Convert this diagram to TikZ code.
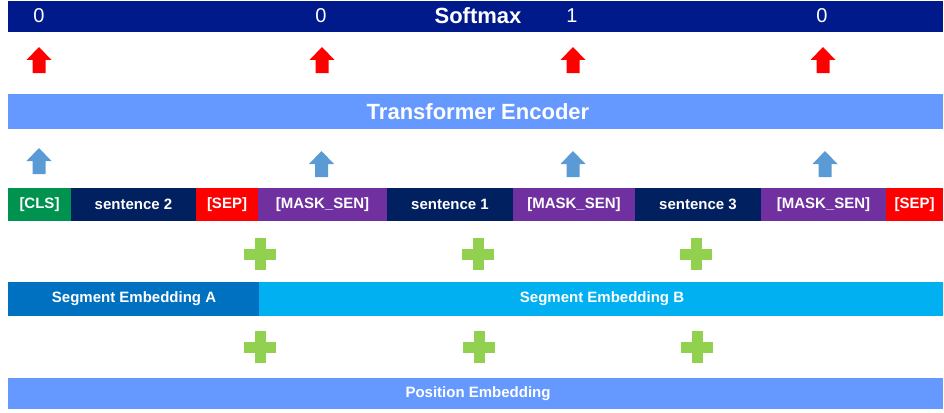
\documentclass[tikz,border=0pt]{standalone}
\usepackage{fontspec}
\setmainfont{Liberation Sans}
\definecolor{softnavy}{HTML}{001A8C}
\definecolor{encblue}{HTML}{6699FF}
\definecolor{arrred}{HTML}{FF0000}
\definecolor{arrblue}{HTML}{5B9BD5}
\definecolor{clsgreen}{HTML}{00924F}
\definecolor{sentnavy}{HTML}{002060}
\definecolor{sepred}{HTML}{FF0000}
\definecolor{maskpurple}{HTML}{7030A0}
\definecolor{plusgreen}{HTML}{92D050}
\definecolor{segA}{HTML}{0070C0}
\definecolor{segB}{HTML}{00B0F0}
\begin{document}
\begin{tikzpicture}[x=1pt,y=-1pt,
  barbox/.style={draw=none,inner sep=0pt,outer sep=0pt,anchor=north west},
  bartext/.style={text=white,font=\fontsize{22}{26}\selectfont\bfseries,inner sep=0pt},
  digit/.style={text=white,font=\fontsize{20}{24}\selectfont,inner sep=0pt},
  tok/.style={draw=none,inner sep=0pt,outer sep=0pt,minimum height=33pt,text=white,font=\fontsize{15}{18}\selectfont\bfseries},
  segtext/.style={text=white,font=\fontsize{15}{18}\selectfont\bfseries,inner sep=0pt},
  uparrow/.pic={\fill[pic actions] (-12.5,0) -- (0,-13) -- (12.5,0) -- (6.5,0) -- (6.5,13) -- (-6.5,13) -- (-6.5,0) -- cycle;},
  pluspic/.pic={\fill[plusgreen] (-5.5,-16) rectangle (5.5,16); \fill[plusgreen] (-16,-5.5) rectangle (16,5.5);}
]
\useasboundingbox (0,0) rectangle (944,412);
% Softmax bar
\node[barbox,fill=softnavy,minimum width=935pt,minimum height=31pt] (softmax) at (8,1) {};
\node[digit] (o1) at (39,16) {0};
\node[digit] (o2) at (321,16) {0};
\node[bartext] (smtext) at (478,16) {Softmax};
\node[digit] (o3) at (572,16) {1};
\node[digit] (o4) at (822,16) {0};
% red arrows
\foreach \x in {39,322,573,823} \pic[fill=arrred] at (\x,60) {uparrow};
% Transformer encoder
\node[barbox,fill=encblue,minimum width=935pt,minimum height=35pt] (enc) at (8,94) {};
\node[bartext] (enctext) at (478,112) {Transformer Encoder};
% blue arrows
\pic[fill=arrblue] at (39,161) {uparrow};
\foreach \x in {321.5,573,825} \pic[fill=arrblue] at (\x,164) {uparrow};
% tokens
\node[tok,fill=clsgreen,minimum width=63pt] (cls) at (39.5,204.5) {[CLS]};
\node[tok,fill=sentnavy,minimum width=125pt] (s2) at (133.5,204.5) {sentence 2};
\node[tok,fill=sepred,minimum width=62pt] (sep1) at (227,204.5) {[SEP]};
\node[tok,fill=maskpurple,minimum width=129pt] (m1) at (322.5,204.5) {[MASK\_SEN]};
\node[tok,fill=sentnavy,minimum width=126pt] (s1) at (450,204.5) {sentence 1};
\node[tok,fill=maskpurple,minimum width=122pt] (m2) at (574,204.5) {[MASK\_SEN]};
\node[tok,fill=sentnavy,minimum width=126pt] (s3) at (698,204.5) {sentence 3};
\node[tok,fill=maskpurple,minimum width=125pt] (m3) at (823.5,204.5) {[MASK\_SEN]};
\node[tok,fill=sepred,minimum width=57pt] (sep2) at (914.5,204.5) {[SEP]};
% pluses row 1
\foreach \x in {260,478,696} \pic at (\x,254) {pluspic};
% segment embeddings
\node[barbox,fill=segA,minimum width=251pt,minimum height=34pt] (sega) at (8,282) {};
\node[barbox,fill=segB,minimum width=684pt,minimum height=34pt] (segb) at (259,282) {};
\node[segtext] (segatext) at (134,299) {Segment Embedding A};
\node[segtext] (segbtext) at (602,299) {Segment Embedding B};
% pluses row 2
\foreach \x in {260,479,697} \pic at (\x,347) {pluspic};
% position embedding
\node[barbox,fill=encblue,minimum width=935pt,minimum height=31pt] (pos) at (8,378) {};
\node[segtext] (postext) at (478,393.5) {Position Embedding};
\end{tikzpicture}
\end{document}
